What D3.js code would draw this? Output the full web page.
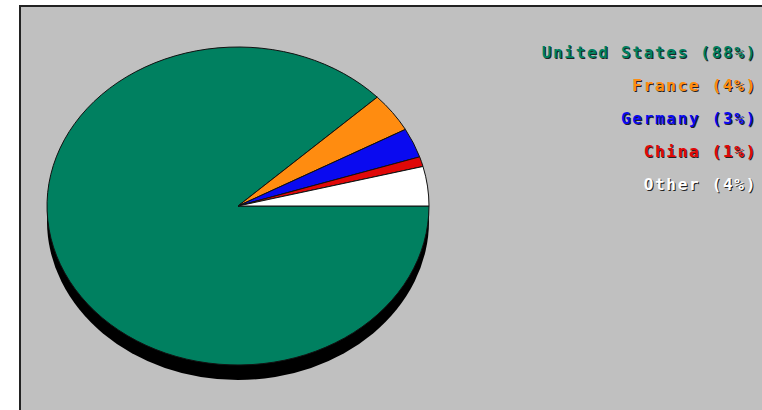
<!DOCTYPE html>
<html><head><meta charset="utf-8">
<script src="https://cdn.jsdelivr.net/npm/d3@7"></script>
<style>html,body{margin:0;padding:0;background:#fff;overflow:hidden}</style>
</head><body>
<svg id="c" width="762" height="410"></svg>
<script>
const categories = ["United States", "France", "Germany", "China", "Other"];
const values = [88, 4, 3, 1, 4];
const colors = ["#008060", "#ff8c10", "#0a0af0", "#e00808", "#ffffff"];
const labels = categories.map((c, i) => `${c} (${values[i]}%)`);

const svg = d3.select("#c");
// frame
svg.append("rect").attr("x", 20).attr("y", 6).attr("width", 780).attr("height", 440)
  .attr("fill", "#c0c0c0").attr("stroke", "#222").attr("stroke-width", 2);

const cx = 238, cy = 206, rx = 191, ry = 159;
const pie = d3.pie().sort(null).startAngle(Math.PI / 2).endAngle(Math.PI / 2 + 2 * Math.PI);
const arcs = pie(values);
const arc = d3.arc().innerRadius(0).outerRadius(rx);

// shadow
svg.append("ellipse").attr("cx", cx).attr("cy", cy + 15).attr("rx", rx).attr("ry", ry)
  .attr("fill", "#000");

const g = svg.append("g").attr("transform", `translate(${cx},${cy}) scale(1,${ry / rx})`);
g.selectAll("path").data(arcs).join("path")
  .attr("d", arc)
  .attr("fill", (d, i) => colors[i])
  .attr("stroke", "#111")
  .attr("stroke-width", 1)
  .attr("vector-effect", "non-scaling-stroke");

const lg = svg.append("g").attr("font-family", "DejaVu Sans Mono").attr("font-weight", "bold")
  .attr("font-size", 16).attr("letter-spacing", 1.7).attr("text-anchor", "end");
const y = d3.scaleBand().domain(categories).range([36, 200]);
lg.selectAll("text.s").data(labels).join("text").attr("class", "s")
  .attr("x", 758).attr("y", (d, i) => y(categories[i]) + y.bandwidth() / 2 + 7)
  .attr("fill", "#222").text(d => d);
lg.selectAll("text.f").data(labels).join("text").attr("class", "f")
  .attr("x", 757).attr("y", (d, i) => y(categories[i]) + y.bandwidth() / 2 + 6)
  .attr("fill", (d, i) => colors[i]).text(d => d);
</script>
</body></html>
